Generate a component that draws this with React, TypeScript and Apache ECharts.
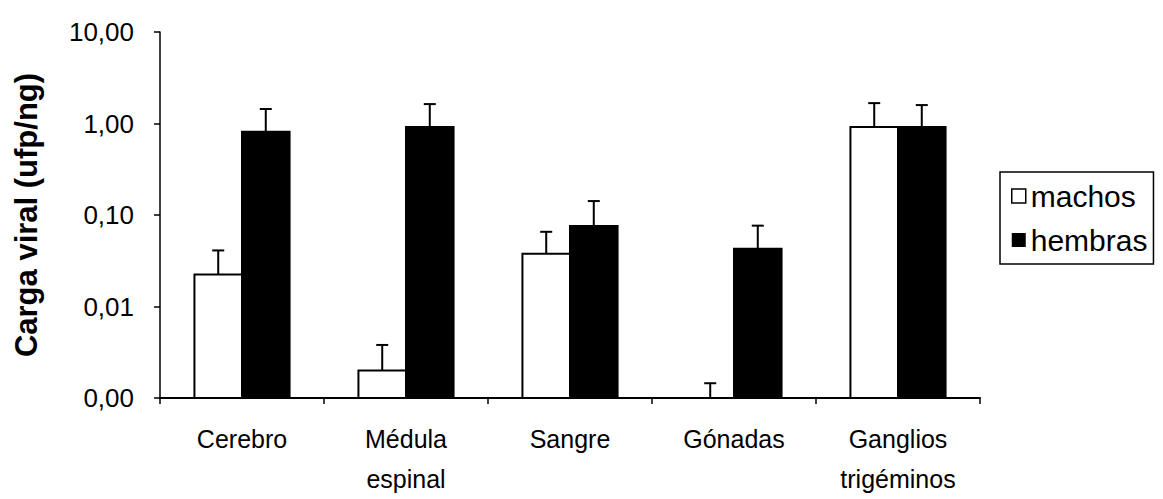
import React, { useEffect, useRef } from "react";
import * as echarts from "echarts";

const categories = ["Cerebro", "Médula\nespinal", "Sangre", "Gónadas", "Ganglios\ntrigéminos"];
const machos = [0.0224, 0.002, 0.0378, 0, 0.916];
const machosUpper = [0.041, 0.0038, 0.0655, 0.00145, 1.67];
const hembras = [0.81, 0.916, 0.076, 0.0428, 0.916];
const hembrasUpper = [1.44, 1.63, 0.142, 0.0765, 1.59];
const yTickValues = [0.001, 0.01, 0.1, 1, 10];
const yTickLabels = ["0,00", "0,01", "0,10", "1,00", "10,00"];

const Y_MIN = 0.001;
const Y_MAX = 10;
const SANS = "'Liberation Sans', Arial, sans-serif";

function makeRender(side: number, fill: string) {
  return (params: any, api: any) => {
    const idx = api.value(0);
    const v = api.value(1);
    const up = api.value(2);
    const base = api.coord([idx, Y_MIN]);
    const band = api.coord([1, Y_MIN])[0] - api.coord([0, Y_MIN])[0];
    const bw = band * 0.29;
    const x0 = side < 0 ? base[0] - bw : base[0];
    const cx = x0 + bw / 2;
    const children: any[] = [];
    let from = base[1];
    if (v > Y_MIN) {
      const top = api.coord([idx, v]);
      from = top[1];
      children.push({
        type: "rect",
        shape: { x: x0, y: top[1], width: bw, height: base[1] - top[1] },
        style: { fill, stroke: "#000", lineWidth: 2 },
      });
    }
    const to = api.coord([idx, up])[1];
    children.push({
      type: "line",
      shape: { x1: cx, y1: from, x2: cx, y2: to },
      style: { stroke: "#000", lineWidth: 2 },
    });
    children.push({
      type: "line",
      shape: { x1: cx - 6, y1: to, x2: cx + 6, y2: to },
      style: { stroke: "#000", lineWidth: 2 },
    });
    return { type: "group", children };
  };
}

export default function App() {
  const ref = useRef<HTMLDivElement>(null);
  useEffect(() => {
    if (!ref.current) return;
    const chart = echarts.init(ref.current, null, { renderer: "svg" });
    chart.setOption({
      animation: false,
      backgroundColor: "#fff",
      grid: { left: 160, top: 32, width: 820, height: 370, containLabel: false },
      legend: {
        orient: "vertical",
        left: 1000,
        top: 172,
        padding: [9, 6, 9, 11],
        borderColor: "#000",
        borderWidth: 1.5,
        itemWidth: 14,
        itemHeight: 14,
        itemGap: 14,
        textStyle: { fontFamily: SANS, fontSize: 30, color: "#000" },
        data: [
          { name: "machos", icon: "rect", itemStyle: { color: "#fff", borderColor: "#000", borderWidth: 1.5 } },
          { name: "hembras", icon: "rect", itemStyle: { color: "#000" } },
        ],
      },
      xAxis: {
        type: "category",
        data: categories,
        axisLine: { lineStyle: { color: "#000", width: 2 } },
        axisTick: { show: true, length: 6, lineStyle: { color: "#000", width: 1.5 } },
        axisLabel: {
          fontFamily: SANS,
          fontSize: 25,
          lineHeight: 40,
          color: "#000",
          margin: 21,
          interval: 0,
        },
      },
      yAxis: {
        type: "log",
        logBase: 10,
        min: Y_MIN,
        max: Y_MAX,
        name: "Carga viral (ufp/ng)",
        nameLocation: "middle",
        nameRotate: 90,
        nameGap: 118,
        nameTextStyle: { fontFamily: SANS, fontSize: 31, fontWeight: "bold", color: "#000" },
        axisLine: { show: true, lineStyle: { color: "#000", width: 1.5 } },
        axisTick: { show: true, length: 6, lineStyle: { color: "#000", width: 1.5 } },
        splitLine: { show: false },
        axisLabel: {
          fontFamily: SANS,
          fontSize: 26,
          color: "#000",
          margin: 26,
          formatter: (v: number) => {
            let best = 0;
            for (let i = 0; i < yTickValues.length; i++) {
              if (Math.abs(Math.log10(yTickValues[i]) - Math.log10(v)) < Math.abs(Math.log10(yTickValues[best]) - Math.log10(v))) best = i;
            }
            return yTickLabels[best];
          },
        },
      },
      series: [
        {
          name: "machos",
          type: "custom",
          itemStyle: { color: "#fff", borderColor: "#000" },
          encode: { x: 0, y: [1, 2] },
          data: categories.map((_, i) => [i, machos[i], machosUpper[i]]),
          renderItem: makeRender(-1, "#fff"),
        },
        {
          name: "hembras",
          type: "custom",
          itemStyle: { color: "#000" },
          encode: { x: 0, y: [1, 2] },
          data: categories.map((_, i) => [i, hembras[i], hembrasUpper[i]]),
          renderItem: makeRender(1, "#000"),
        },
      ],
    });
    return () => chart.dispose();
  }, []);
  return (
    <div
      ref={ref}
      style={{ position: "fixed", left: 0, top: 0, width: 1163, height: 499, background: "#fff" }}
    />
  );
}
